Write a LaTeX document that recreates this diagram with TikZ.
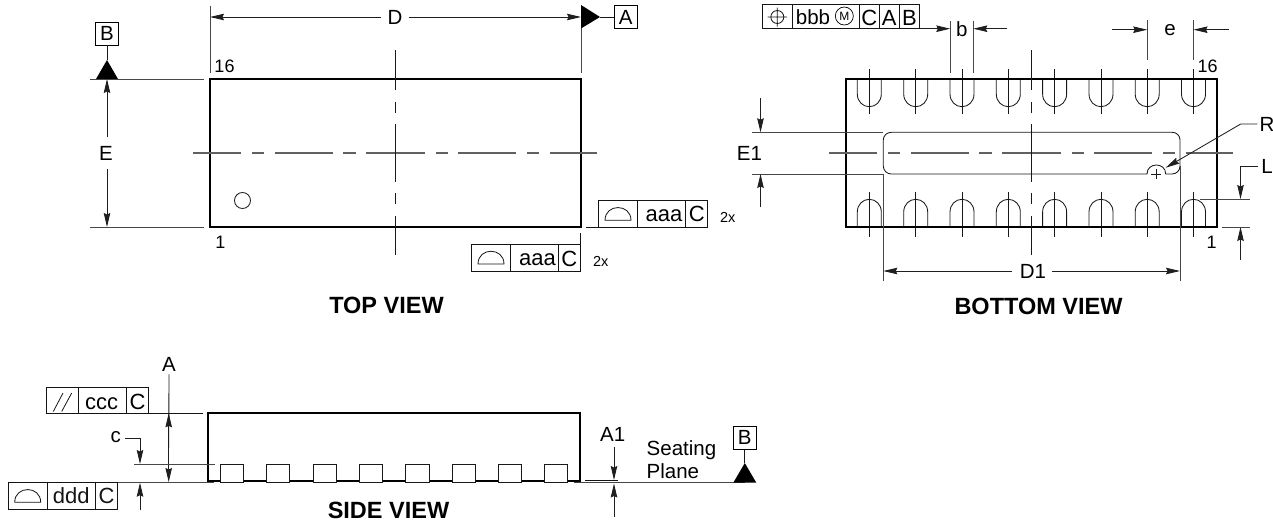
\documentclass[tikz,border=0pt]{standalone}
\usepackage{fontspec}
\setmainfont{Liberation Sans}
\usetikzlibrary{arrows.meta}
\newcommand{\fsz}[1]{\fontsize{#1}{#1}\selectfont}
\tikzset{
  outline/.style={line width=1.8pt,black},
  thin line/.style={line width=0.85pt,black!90},
  extline/.style={line width=1pt,black!72},
  cline/.style={line width=1.2pt,black!62},
  framecell/.style={line width=0.8pt,black!92},
  lab/.style={inner sep=0pt,font=\fsz{20.5}},
  framelab/.style={inner sep=0pt,font=\fsz{22}},
  smalllab/.style={inner sep=0pt,font=\fsz{18}},
  tinylab/.style={inner sep=0pt,font=\fsz{14.5}},
  title/.style={inner sep=0pt,font=\bfseries\fsz{23.5}},
  dim/.style={line width=0.85pt,black!88,-{Stealth[length=14pt,width=6.5pt,inset=1.5pt]}},
  datum/.style={draw,line width=0.8pt,minimum width=23pt,minimum height=23pt,inner sep=0pt,font=\fsz{20.5}},
  tri/.style={fill=black,draw=none},
}
% symbol: flatness semicircle
\newcommand{\flatsym}[3]{\draw[framecell] (#1,#3) .. controls (#1,#3-17) and (#2,#3-17) .. (#2,#3) -- cycle;}
% centre lines
\newcommand{\hcentreline}[2]{\foreach \a/\b in {0/48,59/71,82/140,150/163,173/232,243/255,265/323,334/346,357/404}
  {\draw[cline] (#1+\a,#2) -- (#1+\b,#2);}}
\newcommand{\vcentreline}[1]{\foreach \a/\b in {50/90,102/113,124/182,193/204,216/255}
  {\draw[thin line] (#1,\a) -- (#1,\b);}}
\begin{document}
\begin{tikzpicture}[x=1pt,y=-1pt]
\useasboundingbox (0,0) rectangle (1273,523);

%% ---------- TOP VIEW
\draw[outline] (210,79) rectangle (581,227);
\hcentreline{193}{153}
\vcentreline{395}
\draw[thin line] (242.5,200.5) circle[radius=8];
\node[smalllab] at (224.5,66.5) {16};
\node[smalllab] at (220.5,242.5) {1};
% D
\coordinate (dL) at (210,17); \coordinate (dR) at (581,17);
\draw[extline] (210,6) -- (210,73);
\draw[extline] (581,17) -- (581,73);
\node[lab] (D) at (395,17) {D};
\draw[dim] (D.west)++(-6,0) -- (dL);
\draw[dim] (D.east)++(6,0) -- (dR);
\node[datum] (boxA) at (625.7,17) {A};
\coordinate (triA) at (600,17);
\fill[tri] (581,5) -- (triA) -- (581,28.5) -- cycle;
\draw[thin line] (triA) -- (boxA);
% E and B
\node[datum] (boxB) at (107,33.5) {B};
\coordinate (triB) at (107,60);
\fill[tri] (96,79) -- (triB) -- (118,79) -- cycle;
\draw[thin line] (boxB) -- (triB);
\draw[extline] (90,79) -- (204,79);
\draw[extline] (90,227) -- (204,227);
\node[lab] (E) at (106,153) {E};
\coordinate (eT) at (107,79); \coordinate (eB) at (107,227);
\draw[dim] (107,137) -- (eT);
\draw[dim] (107,169) -- (eB);
% frames
\draw[framecell] (598.3,200) rectangle (637.3,227);
\draw[framecell] (637.3,200) rectangle (685.7,227);
\node[framelab] at (664,216) {aaa};
\draw[framecell] (685.7,200) rectangle (707.7,227);
\node[framelab] at (696.7,214.3) {C};
\draw[framecell] (586,227) -- (598.3,227);
\flatsym{605}{631}{220.3}
\node[tinylab] at (727.7,217) {2x};
\draw[framecell] (471.3,244.3) rectangle (510,271);
\draw[framecell] (510,244.3) rectangle (558.3,271);
\node[framelab] at (537.5,260) {aaa};
\draw[framecell] (558.3,244.3) rectangle (580.5,271);
\node[framelab] at (569.4,258.5) {C};
\draw[framecell] (580.5,233) -- (580.5,271);
\flatsym{478}{504}{264}
\node[tinylab] at (600.7,261) {2x};
\node[title] at (386.5,305.5) {TOP VIEW};

%% ---------- BOTTOM VIEW
% pins
\foreach \x in {869.3,915.7,962,1008.3,1054.6,1101,1147.2,1193.5}{
  \draw[thin line] (\x-12,79) -- (\x-12,94) .. controls (\x-12,101.5) and (\x-6.5,106.7) .. (\x,106.7)
     .. controls (\x+6.5,106.7) and (\x+12,101.5) .. (\x+12,94) -- (\x+12,79);
  \draw[thin line] (\x,69) -- (\x,114);
  \draw[thin line] (\x-12,227) -- (\x-12,212) .. controls (\x-12,204.5) and (\x-6.5,199.3) .. (\x,199.3)
     .. controls (\x+6.5,199.3) and (\x+12,204.5) .. (\x+12,212) -- (\x+12,227);
  \draw[thin line] (\x,191.7) -- (\x,236.7);
}
\draw[outline] (846,79) rectangle (1217,227);
\hcentreline{829}{153}
\vcentreline{1031}
% pad
\draw[thin line] (883.3,140) .. controls (883.3,135.5) and (887,132.3) .. (891.3,132.3)
  -- (1172,132.3) .. controls (1176.5,132.3) and (1180,135.5) .. (1180,140)
  -- (1180,166) .. controls (1180,170.5) and (1176.5,174) .. (1172,174)
  -- (1165.7,174) .. controls (1165.7,162) and (1147,162) .. (1147,174)
  -- (891.3,174) .. controls (887,174) and (883.3,170.5) .. (883.3,166) -- cycle;
\draw[thin line] (1151,174) -- (1161,174) (1156,169) -- (1156,179);
% E1
\draw[extline] (752,132.3) -- (883.3,132.3);
\draw[extline] (752,174) -- (883.3,174);
\node[lab] at (749.5,153) {E1};
\coordinate (e1T) at (760.5,132.3); \coordinate (e1B) at (760.5,174);
\draw[dim] (760.5,98) -- (e1T);
\draw[dim] (760.5,207) -- (e1B);
% D1
\draw[extline] (883.3,174) -- (883.3,280.7);
\draw[extline] (1180,166) -- (1180,280.7);
\node[lab] (D1) at (1033,271) {D1};
\coordinate (d1L) at (883.3,271); \coordinate (d1R) at (1180,271);
\draw[dim] (1012,271) -- (d1L);
\draw[dim] (D1.east)++(6,0) -- (d1R);
% frame bbb
\draw[framecell] (762,4.3) rectangle (792.3,28.7);
\draw[framecell] (792.3,4.3) rectangle (859.3,28.7);
\draw[framecell] (859.3,4.3) rectangle (879.3,28.7);
\node[framelab] at (869.3,18) {C};
\draw[framecell] (879.3,4.3) rectangle (899.3,28.7);
\node[framelab] at (889.3,18) {A};
\draw[framecell] (899.3,4.3) rectangle (919.7,28.7);
\node[framelab] at (909.5,18) {B};
\draw[framecell] (777.3,17) circle[radius=6.5] (767.5,17) -- (787,17) (777.3,7.5) -- (777.3,26.5);
\node[lab] at (813,17.5) {bbb};
\node[draw,circle,line width=0.7pt,minimum size=18pt,inner sep=0pt,font=\fsz{12}] at (844.3,16) {M};
% b
\draw[extline] (950.3,21) -- (950.3,73);
\draw[extline] (973.3,21) -- (973.3,73);
\node[lab] at (961.8,29) {b};
\coordinate (bL) at (950.3,28.7); \coordinate (bR) at (973.3,28.7);
\draw[dim] (919.7,28.7) -- (bL);
\draw[dim] (1007,28.7) -- (bR);
% e
\draw[extline] (1147.2,20) -- (1147.2,60);
\draw[extline] (1193.5,20) -- (1193.5,60);
\node[lab] at (1170,30) {e};
\coordinate (eL) at (1147.2,29.7); \coordinate (eR) at (1193.5,29.7);
\draw[dim] (1111.7,29.7) -- (eL);
\draw[dim] (1229,29.7) -- (eR);
\node[smalllab] at (1207.7,66.5) {16};
\node[smalllab] at (1211.7,242.5) {1};
% R
\node[lab] (R) at (1267,124) {R};
\coordinate (rTip) at (1165.7,167.7);
\draw[dim] (R.west)++(-2,0) -- (1240.7,124) -- (rTip);
% L
\node[lab] (L) at (1267,166) {L};
\coordinate (lTop) at (1240.5,199); \coordinate (lBot) at (1240.5,227);
\draw[dim] (L.west)++(-3,0) -- (1240.5,166) -- (lTop);
\draw[dim] (1240.5,260) -- (lBot);
\draw[extline] (1200,199) -- (1250,199);
\draw[extline] (1222,227) -- (1250,227);
\node[title] at (1038.5,306) {BOTTOM VIEW};

%% ---------- SIDE VIEW
\draw[outline] (208,481) -- (208,413) -- (580,413) -- (580,481) -- cycle;
\draw[extline,line width=1.3pt] (117.3,482.5) -- (214,482.5);
\draw[extline,line width=1.3pt] (574,482.5) -- (745,482.5);
\foreach \x in {220.3,266.5,313,359.3,405.7,452,498.3,544.5}{
  \draw[thin line,fill=white] (\x,464.3) rectangle (\x+23.4,482.7);
}
% A
\node[lab] (Atxt) at (169,364) {A};
\coordinate (aTop) at (168.7,413.3); \coordinate (aBot) at (168.7,482);
\draw[dim] (168.7,448) -- (aTop);
\draw[thin line] (Atxt.south)++(0,3) -- (168.7,448);
\draw[dim] (168.7,448) -- (aBot);
\draw[framecell] (46.3,387.3) rectangle (78.3,413.3);
\draw[framecell] (78.3,387.3) rectangle (126.7,413.3);
\node[framelab] at (101.5,403.3) {ccc};
\draw[framecell] (126.7,387.3) rectangle (148.3,413.3);
\node[framelab] at (137.5,402) {C};
\draw[framecell] (53.3,411.5) -- (63,393) (61.7,411.5) -- (71.7,393);
\draw[framecell] (148.3,413.3) -- (203,413.3);
% ddd frame
\draw[framecell] (8.3,482.7) rectangle (47,509.3);
\draw[framecell] (47,482.7) rectangle node[framelab] {ddd} (95.7,509.3);
\draw[framecell] (95.7,482.7) rectangle node[framelab] {C} (117.3,509.3);
\flatsym{14.7}{40.7}{502.3}
% c
\node[lab] (ctxt) at (115.7,437) {c};
\coordinate (cTop) at (140,464); \coordinate (cBot) at (140,482.7);
\draw[dim] (ctxt.east)++(4,1) -- (140,438) -- (cTop);
\draw[dim] (140,510) -- (cBot);
\draw[extline] (134,464) -- (215,464);
% A1
\node[lab] at (612.7,434) {A1};
\coordinate (a1T) at (614,480); \coordinate (a1B) at (614,483.5);
\draw[dim] (614,446.7) -- (a1T);
\draw[dim] (614,516.7) -- (a1B);
\draw[framecell] (585.3,480) -- (618,480);
% Seating plane
\node[lab,anchor=west] at (646.5,450) {Seating};
\node[lab,anchor=west] at (646.5,471.5) {Plane};
\node[datum] (boxB2) at (744.8,437.7) {B};
\coordinate (triB2) at (744.8,463);
\fill[tri] (733.3,482.7) -- (triB2) -- (756.3,482.7) -- cycle;
\draw[thin line] (boxB2) -- (triB2);
\node[title] at (388.5,510) {SIDE VIEW};
\end{tikzpicture}
\end{document}
